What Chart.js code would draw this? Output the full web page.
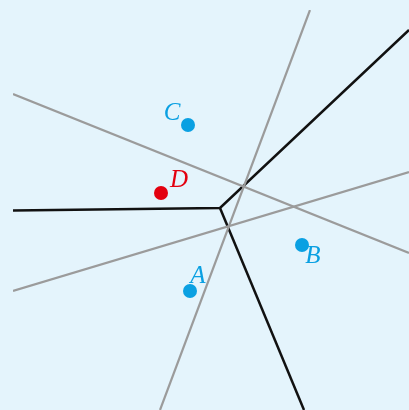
<!DOCTYPE html>
<html>
<head>
<meta charset="utf-8">
<script src="https://cdn.jsdelivr.net/npm/chart.js@4"></script>
<style>
  html, body { margin: 0; padding: 0; background: #e4f4fc; }
  #wrap { width: 409px; height: 410px; }
</style>
</head>
<body>
<div id="wrap"><canvas id="voronoi"></canvas></div>
<script>
// Titik-titik (sites)
const siteNames = ['A', 'B', 'C', 'D'];
const siteX = [177, 289, 175, 148];
const siteY = [119, 165, 285, 217];

// Garis bagi (abu-abu)
const greyLine1 = [{x: 0, y: 316}, {x: 396, y: 157}];
const greyLine2 = [{x: 0, y: 119}, {x: 396, y: 238}];
const greyLine3 = [{x: 147, y: 0}, {x: 297, y: 400}];

// Batas sel Voronoi (hitam)
const edgeUpper = [{x: 0, y: 199.5}, {x: 207, y: 202}, {x: 396, y: 380}];
const edgeLower = [{x: 207, y: 202}, {x: 291, y: 0}];

const siteColors = ['#0aa0e2', '#0aa0e2', '#0aa0e2', '#e3000f'];

const sites = siteNames.map((n, i) => ({x: siteX[i], y: siteY[i]}));

// offset label relatif ke titik (px)
const labelOffset = {A: [8, -15], B: [11, 11], C: [-16, -12], D: [18, -13]};

const labelPlugin = {
    id: 'siteLabels',
    afterDatasetsDraw(chart) {
        const ctx = chart.ctx;
        const xs = chart.scales.x, ys = chart.scales.y;
        ctx.save();
        ctx.font = 'italic 25px "Liberation Serif", "DejaVu Serif", serif';
        ctx.textAlign = 'center';
        ctx.textBaseline = 'middle';
        siteNames.forEach((n, i) => {
            const px = xs.getPixelForValue(siteX[i]);
            const py = ys.getPixelForValue(siteY[i]);
            ctx.fillStyle = siteColors[i];
            ctx.fillText(n, px + labelOffset[n][0], py + labelOffset[n][1]);
        });
        ctx.restore();
    }
};

function lineSet(data, color, width) {
    return {
        data: data,
        showLine: true,
        borderColor: color,
        borderWidth: width,
        pointRadius: 0,
        pointHoverRadius: 0,
        fill: false,
        tension: 0
    };
}

const chart = new Chart(document.getElementById('voronoi'), {
    type: 'scatter',
    data: {
        datasets: [
            lineSet(greyLine1, '#9b9b9b', 2.2),
            lineSet(greyLine2, '#9b9b9b', 2.2),
            lineSet(greyLine3, '#9b9b9b', 2.2),
            lineSet(edgeUpper, '#111111', 2.5),
            lineSet(edgeLower, '#111111', 2.5),
            {
                data: sites,
                pointRadius: 7,
                pointBackgroundColor: siteColors,
                pointBorderWidth: 0,
                showLine: false
            }
        ]
    },
    plugins: [labelPlugin],
    options: {
        responsive: true,
        maintainAspectRatio: false,
        animation: false,
        layout: { autoPadding: false, padding: { left: 13, top: 10, right: 0, bottom: 0 } },
        plugins: { legend: { display: false }, tooltip: { enabled: false } },
        scales: {
            x: { type: 'linear', min: 0, max: 396, display: false },
            y: { type: 'linear', min: 0, max: 400, display: false }
        }
    }
});
</script>
</body>
</html>
